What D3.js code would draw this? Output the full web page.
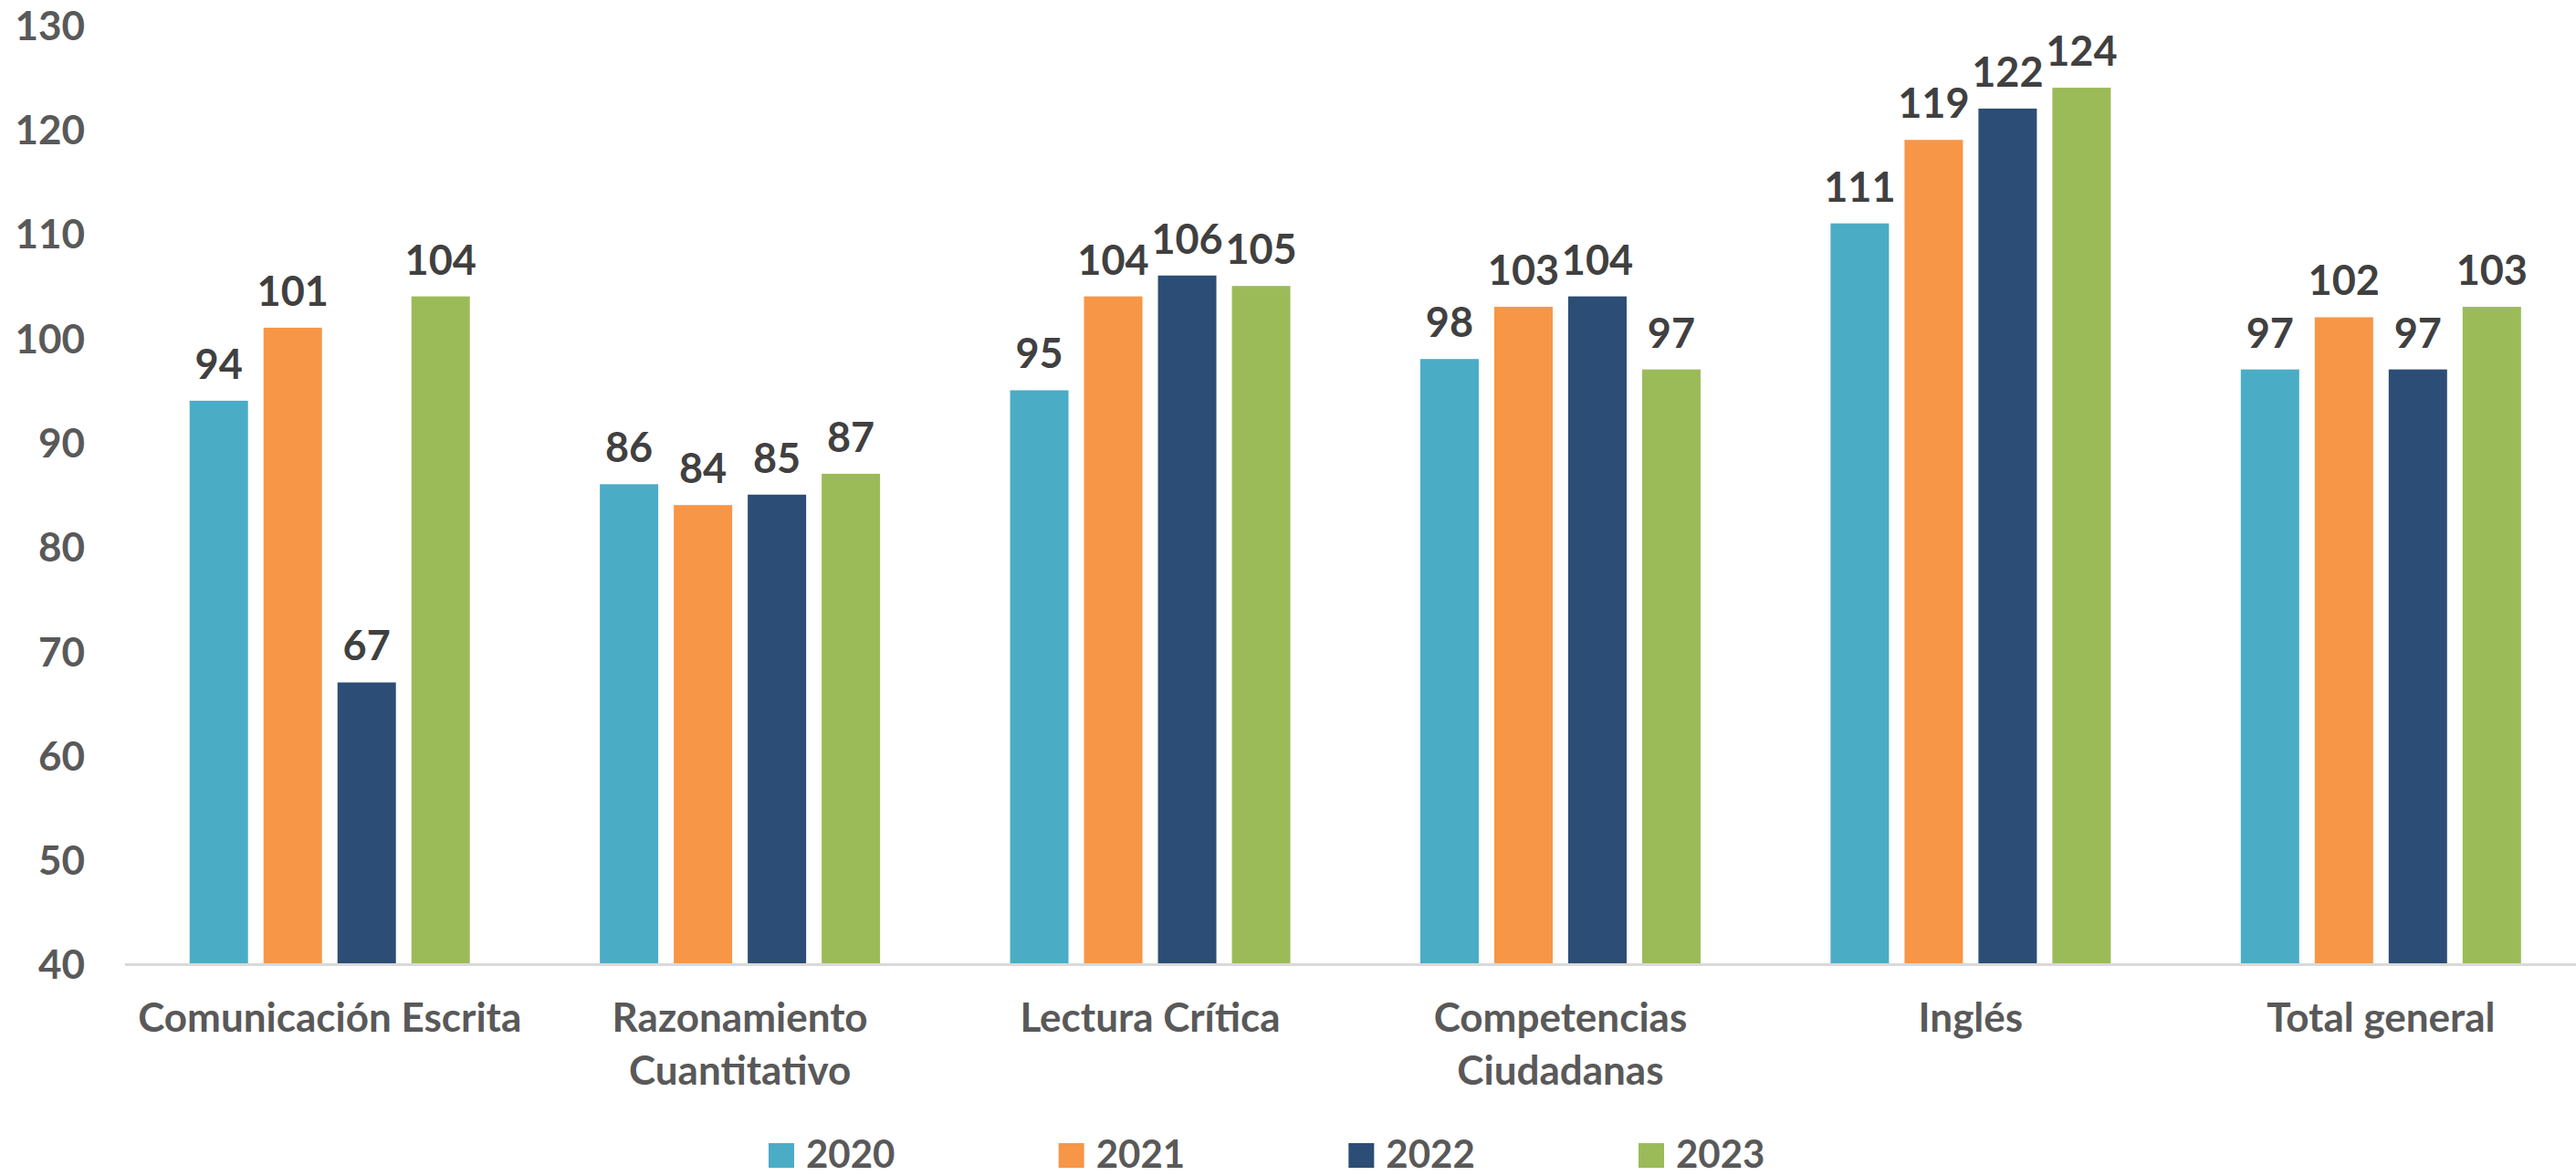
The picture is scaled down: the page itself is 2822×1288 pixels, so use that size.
<!DOCTYPE html>
<html>
<head>
<meta charset="utf-8">
<script src="https://cdn.jsdelivr.net/npm/d3@7"></script>
<style>
  html, body { margin: 0; padding: 0; background: #ffffff; }
  svg { display: block; }
  text { font-family: Lato, "Open Sans", sans-serif; font-weight: 700; }
</style>
</head>
<body>
<svg id="chart" width="2822" height="1288"></svg>
<script>
// Subject areas (category axis); "\n" splits a label into two lines
const categories = [
  "Comunicación Escrita",
  "Razonamiento\nCuantitativo",
  "Lectura Crítica",
  "Competencias\nCiudadanas",
  "Inglés",
  "Total general"
];

// Years shown as series
const years = ["2020", "2021", "2022", "2023"];

// Scores per year, one value per category
const values2020 = [94, 86, 95, 98, 111, 97];
const values2021 = [101, 84, 104, 103, 119, 102];
const values2022 = [67, 85, 106, 104, 122, 97];
const values2023 = [104, 87, 105, 97, 124, 103];

// Y axis ticks
const yTicks = [40, 50, 60, 70, 80, 90, 100, 110, 120, 130];

const seriesColors = ["#4BACC6", "#F79646", "#2C4D75", "#9BBB59"];

const seriesValues = [values2020, values2021, values2022, values2023];
const rows = categories.map((c, i) => ({
  category: c,
  values: years.map((y, j) => ({ year: y, value: seriesValues[j][i] }))
}));

const svg = d3.select("#chart");

const x0 = d3.scaleBand()
  .domain(categories)
  .range([136.5, 2833])
  .paddingInner(0)
  .paddingOuter(0);

const groupWidth = 307;
const x1 = d3.scaleBand()
  .domain(years)
  .range([0, groupWidth])
  .paddingInner(0.21)
  .paddingOuter(0);

const y = d3.scaleLinear()
  .domain([40, 130])
  .range([1056, 27.5]);

const color = d3.scaleOrdinal().domain(years).range(seriesColors);

// Value axis labels (no axis line, no tick marks)
const yAxis = d3.axisLeft(y).tickValues(yTicks).tickSize(0).tickPadding(0);
const yG = svg.append("g")
  .attr("transform", "translate(93,0)")
  .call(yAxis);
yG.select(".domain").remove();
yG.selectAll("text")
  .attr("fill", "#595959")
  .style("font-size", "44px")
  .style("font-family", "Lato, 'Open Sans', sans-serif")
  .style("font-weight", 700)
  .attr("dy", "0.36em");

// Bars
const groups = svg.append("g")
  .selectAll("g")
  .data(rows)
  .join("g")
  .attr("transform", d => `translate(${x0(d.category) + (x0.bandwidth() - groupWidth) / 2},0)`);

groups.selectAll("rect")
  .data(d => d.values)
  .join("rect")
  .attr("x", d => x1(d.year))
  .attr("y", d => y(d.value))
  .attr("width", x1.bandwidth())
  .attr("height", d => y(40) - y(d.value))
  .attr("fill", d => color(d.year));

// Value labels above each bar
groups.selectAll("text.value")
  .data(d => d.values)
  .join("text")
  .attr("class", "value")
  .attr("x", d => x1(d.year) + x1.bandwidth() / 2)
  .attr("y", d => y(d.value) - 24)
  .attr("text-anchor", "middle")
  .attr("fill", "#404040")
  .style("font-size", "45px")
  .text(d => d.value);

// Category axis: baseline and labels
const xAxis = d3.axisBottom(x0).tickSize(0).tickFormat("");
const xG = svg.append("g")
  .attr("transform", `translate(0,${y(40)})`)
  .call(xAxis);
xG.select(".domain")
  .attr("stroke", "#D9D9D9")
  .attr("stroke-width", 3);

const catLabels = svg.append("g")
  .selectAll("text")
  .data(categories)
  .join("text")
  .attr("x", d => x0(d) + x0.bandwidth() / 2)
  .attr("y", 1130)
  .attr("text-anchor", "middle")
  .attr("fill", "#595959")
  .style("font-size", "44px");

catLabels.each(function(d) {
  const t = d3.select(this);
  d.split("\n").forEach((line, i) => {
    t.append("tspan")
      .attr("x", x0(d) + x0.bandwidth() / 2)
      .attr("dy", i === 0 ? 0 : 58)
      .text(line);
  });
});

// Legend
const legendX = d3.scalePoint()
  .domain(years)
  .range([842, 1795]);

const legend = svg.append("g")
  .selectAll("g")
  .data(years)
  .join("g")
  .attr("transform", d => `translate(${legendX(d)},1252)`);

legend.append("rect")
  .attr("width", 28)
  .attr("height", 27)
  .attr("fill", d => color(d));

legend.append("text")
  .attr("x", 41)
  .attr("y", 27)
  .attr("fill", "#595959")
  .style("font-size", "42px")
  .text(d => d);
</script>
</body>
</html>
